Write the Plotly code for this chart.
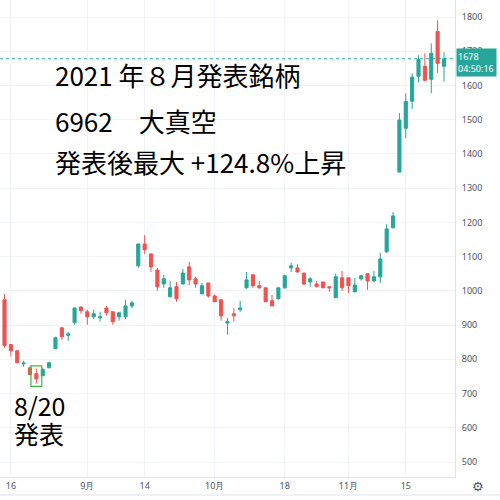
import plotly.graph_objects as go

dates = ["2021-08-13","2021-08-16","2021-08-17","2021-08-18","2021-08-19","2021-08-20",
         "2021-08-23","2021-08-24","2021-08-25","2021-08-26","2021-08-27","2021-08-30","2021-08-31",
         "2021-09-01","2021-09-02","2021-09-03","2021-09-06","2021-09-07","2021-09-08","2021-09-09",
         "2021-09-10","2021-09-13","2021-09-14","2021-09-15","2021-09-16","2021-09-17","2021-09-21",
         "2021-09-22","2021-09-24","2021-09-27","2021-09-28","2021-09-29","2021-09-30",
         "2021-10-01","2021-10-04","2021-10-05","2021-10-06","2021-10-07","2021-10-08","2021-10-11",
         "2021-10-12","2021-10-13","2021-10-14","2021-10-15","2021-10-18","2021-10-19","2021-10-20",
         "2021-10-21","2021-10-22","2021-10-25","2021-10-26","2021-10-27","2021-10-28","2021-10-29",
         "2021-11-01","2021-11-02","2021-11-04","2021-11-05","2021-11-08","2021-11-09","2021-11-10",
         "2021-11-11","2021-11-12","2021-11-15","2021-11-16","2021-11-17","2021-11-18","2021-11-19",
         "2021-11-22","2021-11-24"]

opens = [974, 843, 825, 787, 775, 758, 752, 775, 831, 892, 870, 907, 953,
         939, 924, 921, 950, 939, 924, 924, 956, 1073, 1137, 1108, 1061, 1020, 983,
         1012, 1020, 1070, 1035, 991, 1023,
         985, 974, 906, 933, 945, 1009, 1047, 1015, 1009, 971, 977, 1009, 1067, 1067,
         1052, 1026, 1020, 1026, 1012, 980, 1038,
         1038, 997, 1035, 1050, 1029, 1041, 1114, 1184, 1347, 1475, 1554, 1627, 1656, 1618,
         1758, 1656]
highs = [991, 845, 825, 796, 781, 773, 775, 793, 866, 895, 880, 950, 953,
         945, 945, 939, 956, 939, 936, 974, 971, 1137, 1163, 1108, 1067, 1047, 1029,
         1026, 1064, 1085, 1041, 1023, 1023,
         990, 974, 921, 950, 971, 1055, 1047, 1029, 1009, 988, 1009, 1047, 1082, 1079,
         1052, 1041, 1029, 1026, 1012, 1050, 1058,
         1038, 1038, 1047, 1050, 1058, 1111, 1195, 1230, 1519, 1577, 1636, 1688, 1694, 1723,
         1790, 1697]
lows = [834, 808, 790, 778, 755, 729, 752, 775, 831, 857, 854, 901, 933,
        901, 918, 910, 927, 901, 913, 918, 950, 1067, 1108, 1055, 1000, 1009, 980,
        968, 1020, 1017, 1009, 991, 980,
        968, 913, 872, 910, 939, 1006, 1009, 1006, 968, 956, 974, 1006, 1055, 1055,
        1017, 1012, 1012, 1009, 997, 980, 1000,
        994, 997, 1030, 1003, 1026, 1023, 1111, 1184, 1347, 1446, 1531, 1609, 1612, 1577,
        1636, 1612]
closes = [840, 825, 790, 789, 755, 743, 770, 790, 863, 866, 874, 950, 942,
          924, 933, 924, 936, 910, 936, 956, 965, 1137, 1120, 1070, 1012, 1035, 1009,
          977, 1052, 1032, 1020, 1015, 985,
          968, 927, 910, 927, 950, 1032, 1015, 1009, 968, 956, 1009, 1044, 1073, 1055,
          1020, 1035, 1012, 1009, 1009, 1041, 1009,
          1015, 1017, 1044, 1029, 1041, 1093, 1181, 1219, 1499, 1553, 1624, 1676, 1615, 1694,
          1665, 1678]

tick_dates = ["2021-08-16", "2021-09-01", "2021-09-14", "2021-10-01", "2021-10-18", "2021-11-01", "2021-11-15"]
tick_labels = ["16", "9月", "14", "10月", "18", "11月", "15"]
y_ticks = [500, 600, 700, 800, 900, 1000, 1100, 1200, 1300, 1400, 1500, 1600, 1700, 1800]

announce_date = "2021-08-20"
title_lines = ["2021 年８月発表銘柄", "6962　大真空", "発表後最大 +124.8%上昇"]
announce_lines = ["8/20", "発表"]
last_time = "04:50:16"

UP = "#26a69a"
DOWN = "#ef5350"
GRID = "#f0f3fa"
CJK = "Noto Sans CJK JP"

fig = go.Figure(go.Candlestick(
    x=dates, open=opens, high=highs, low=lows, close=closes,
    increasing=dict(line=dict(color=UP, width=1), fillcolor=UP),
    decreasing=dict(line=dict(color=DOWN, width=1), fillcolor=DOWN),
    whiskerwidth=0, showlegend=False, hoverinfo="skip",
))

n = len(dates)
fig.update_layout(
    width=500, height=500,
    margin=dict(l=0, r=45, t=0, b=23),
    paper_bgcolor="white", plot_bgcolor="white",
    xaxis=dict(
        type="category", range=[-0.71, n - 1 + 1.73],
        rangeslider=dict(visible=False),
        tickmode="array", tickvals=tick_dates, ticktext=tick_labels,
        showgrid=True, gridcolor=GRID, gridwidth=1,
        showline=True, linecolor="#e0e3eb", linewidth=1,
        ticks="", tickfont=dict(family="Noto Sans", size=9, color="#50535e"),
        fixedrange=True,
    ),
    yaxis=dict(
        side="right", range=[456.2, 1849.7],
        tickmode="array", tickvals=y_ticks,
        showgrid=True, gridcolor=GRID, gridwidth=1,
        showline=True, linecolor="#e0e3eb", linewidth=1,
        ticks="", tickfont=dict(family="Noto Sans", size=9, color="#50535e"),
        ticklabelstandoff=4, zeroline=False,
    ),
    font=dict(family=CJK),
)

# last price dotted line + label
last = closes[-1]
fig.add_shape(type="line", xref="paper", x0=0, x1=1, yref="y", y0=last, y1=last,
              line=dict(color=UP, width=1, dash="dot"))
fig.add_annotation(xref="paper", x=1.0, xanchor="left", yref="y", y=last, yanchor="middle",
                   text=f"{last}<br>{last_time}", showarrow=False, align="left",
                   bgcolor=UP, font=dict(family="Noto Sans", size=9, color="white"),
                   borderpad=1, xshift=1, yshift=-4, width=37)

# announcement box around candle
ai = dates.index(announce_date)
fig.add_shape(type="rect", xref="x", yref="y",
              x0=ai - 0.85, x1=ai + 0.85, y0=lows[ai] - 8, y1=highs[ai] + 8,
              line=dict(color="#3fb83f", width=1.2))

# bottom line of time axis
fig.add_shape(type="line", xref="paper", yref="paper", x0=0, x1=1.1, y0=-18/477, y1=-18/477,
              line=dict(color="#e0e3eb", width=1))
# settings gear icon (drawn as circle + ray shapes)
gx, gy = 478 / 455, -10 / 477
fig.add_annotation(xref="paper", yref="paper", x=gx, y=gy, xanchor="center", yanchor="middle",
                   text="⚙", showarrow=False,
                   font=dict(family="DejaVu Sans", size=13, color="#50535e"))

# texts
ys = [75, 121, 161]
for t, yy in zip(title_lines, ys):
    fig.add_annotation(xref="paper", yref="paper", x=53/455, xanchor="left",
                       y=1 - yy/477, yanchor="middle", text=t, showarrow=False,
                       font=dict(family=CJK, size=26, color="#000000"))
for t, yy in zip(announce_lines, [405, 433]):
    fig.add_annotation(xref="paper", yref="paper", x=12/455, xanchor="left",
                       y=1 - yy/477, yanchor="middle", text=t, showarrow=False,
                       font=dict(family=CJK, size=25, color="#000000"))

fig.write_html("out.html", config={"displayModeBar": False},
               post_script="document.body.style.margin='0';")
